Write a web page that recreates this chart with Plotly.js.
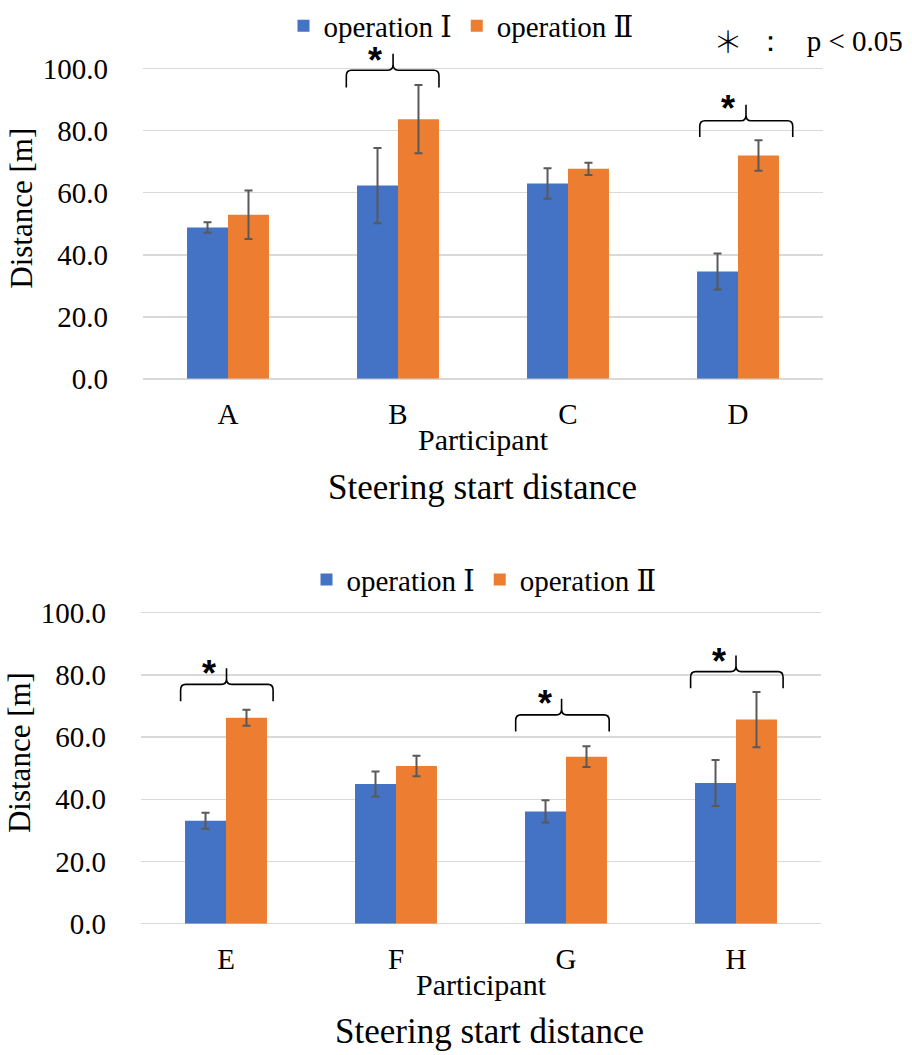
<!DOCTYPE html>
<html>
<head>
<meta charset="utf-8">
<script src="https://cdn.plot.ly/plotly-3.0.1.min.js"></script>
<style>
  html, body { margin: 0; padding: 0; background: #ffffff; }
  #chart { width: 912px; height: 1055px; }
</style>
</head>
<body>
<div id="chart"></div>
<script>
// ---------------- data ----------------
const categoriesTop = ['A', 'B', 'C', 'D'];
const op1Top = [48.8, 62.3, 63.0, 34.6];
const op1TopErr = [1.7, 12.1, 4.9, 5.8];
const op2Top = [52.9, 83.7, 67.7, 72.0];
const op2TopErr = [7.8, 11.0, 2.0, 4.9];

const categoriesBottom = ['E', 'F', 'G', 'H'];
const op1Bottom = [33.1, 44.9, 36.1, 45.2];
const op1BottomErr = [2.6, 4.0, 3.6, 7.4];
const op2Bottom = [66.2, 50.7, 53.7, 65.6];
const op2BottomErr = [2.6, 3.3, 3.3, 8.9];

const seriesNames = ['operation \u2160', 'operation \u2161'];
const yTickVals = [0, 20, 40, 60, 80, 100];
const chartTitle = 'Steering start distance';
const xTitle = 'Participant';
const yTitle = 'Distance [m]';
const sigMark = '\uFF0A';
const sigNote = '\uFF1A\u00a0\u00a0\u00a0p < 0.05';

// significant comparisons (category names)
const sigTop = ['B', 'D'];
const sigBottom = ['E', 'G', 'H'];

// ---------------- styling / annotation geometry ----------------
const BLUE = '#4472C4', ORANGE = '#ED7D31';
const SERIF = "'Liberation Serif', 'DejaVu Serif', serif";
const GRID = '#d9d9d9';

// brace geometry, relative to category index (l/r/tip/star offsets) and y levels
const braceGeom = {
  B: {l: -0.304, r: 0.241, tip: -0.029, star: -0.134, yh: 99.5, ye: 93.9, yt: 104.8, ys: 103.4},
  D: {l: -0.225, r: 0.322, tip: 0.047, star: -0.058, yh: 83.2, ye: 78.0, yt: 88.4, ys: 87.7},
  E: {l: -0.267, r: 0.277, tip: 0.003, star: -0.102, yh: 76.9, ye: 71.5, yt: 82.1, ys: 81.1},
  G: {l: -0.296, r: 0.254, tip: -0.026, star: -0.126, yh: 67.1, ye: 61.8, yt: 72.3, ys: 71.3},
  H: {l: -0.267, r: 0.277, tip: 0.0, star: -0.1, yh: 81.0, ye: 75.7, yt: 86.2, ys: 85.0}
};

const idxTop = categoriesTop.map((c, i) => i);
const idxBottom = categoriesBottom.map((c, i) => i);

function barTrace(x, y, err, name, color, xa, ya, legend) {
  return {
    type: 'bar', x: x, y: y, name: name,
    xaxis: xa, yaxis: ya, legend: legend, showlegend: true,
    marker: {color: color},
    error_y: {type: 'data', array: err, visible: true, color: '#595959', thickness: 2, width: 4},
    hoverinfo: 'x+y'
  };
}

const data = [
  barTrace(idxTop, op1Top, op1TopErr, seriesNames[0], BLUE, 'x', 'y', 'legend'),
  barTrace(idxTop, op2Top, op2TopErr, seriesNames[1], ORANGE, 'x', 'y', 'legend'),
  barTrace(idxBottom, op1Bottom, op1BottomErr, seriesNames[0], BLUE, 'x2', 'y2', 'legend2'),
  barTrace(idxBottom, op2Bottom, op2BottomErr, seriesNames[1], ORANGE, 'x2', 'y2', 'legend2')
];

const shapes = [];
const annotations = [];

function addBrace(cats, name, xref, yref) {
  const c = cats.indexOf(name);
  const g = braceGeom[name];
  const l = c + g.l, r = c + g.r, t = c + g.tip;
  const dx = 0.03, dy = 1.8;
  const p = `M${l},${g.ye} L${l},${g.yh - dy} Q${l},${g.yh} ${l + dx},${g.yh} ` +
            `L${t - dx},${g.yh} Q${t},${g.yh} ${t},${g.yh + dy} L${t},${g.yt} ` +
            `M${t},${g.yh + dy} Q${t},${g.yh} ${t + dx},${g.yh} ` +
            `L${r - dx},${g.yh} Q${r},${g.yh} ${r},${g.yh - dy} L${r},${g.ye}`;
  shapes.push({type: 'path', path: p, xref: xref, yref: yref, line: {color: '#000000', width: 1.6}});
  annotations.push({
    x: c + g.star, y: g.ys, xref: xref, yref: yref, text: '*', showarrow: false,
    xanchor: 'center', yanchor: 'middle', yshift: -2,
    font: {family: "'Liberation Sans', sans-serif", size: 36, color: '#000000', weight: 'bold'}
  });
}
sigTop.forEach(n => addBrace(categoriesTop, n, 'x', 'y'));
sigBottom.forEach(n => addBrace(categoriesBottom, n, 'x2', 'y2'));

// chart titles (placed below each chart, as in the original)
annotations.push({
  text: chartTitle, xref: 'paper', yref: 'paper', x: 483 / 912, y: 1 - 484 / 1055,
  xanchor: 'center', yanchor: 'middle', showarrow: false,
  font: {family: SERIF, size: 35, color: '#000000'}
});
annotations.push({
  text: chartTitle, xref: 'paper', yref: 'paper', x: 490 / 912, y: 1 - 1031 / 1055,
  xanchor: 'center', yanchor: 'middle', showarrow: false,
  font: {family: SERIF, size: 35, color: '#000000'}
});
// significance note
annotations.push({
  text: sigMark, xref: 'paper', yref: 'paper', x: 728 / 912, y: 1 - 34 / 1055,
  xanchor: 'center', yanchor: 'middle', showarrow: false,
  font: {family: "'Noto Sans CJK JP', sans-serif", size: 30, color: '#000000', weight: 300}
});
annotations.push({
  text: sigNote, xref: 'paper', yref: 'paper', x: 905 / 912, y: 1 - 35 / 1055,
  xanchor: 'right', yanchor: 'middle', showarrow: false,
  font: {family: SERIF, size: 29, color: '#000000'}
});

function xAxis(domain, cats, anchor) {
  return {
    domain: domain, anchor: anchor, type: 'linear', range: [-0.5, cats.length - 0.5],
    tickvals: cats.map((c, i) => i), ticktext: cats,
    showgrid: false, zeroline: false, showline: false, ticks: '',
    ticklabelstandoff: 15,
    tickfont: {family: SERIF, size: 29, color: '#000000'},
    title: {text: xTitle, font: {family: SERIF, size: 30, color: '#000000'}, standoff: 0},
    fixedrange: true
  };
}
function yAxis(domain, anchor) {
  return {
    domain: domain, anchor: anchor, range: [0, 110],
    tickvals: yTickVals, tickformat: '.1f',
    showgrid: true, gridcolor: GRID, gridwidth: 1.5,
    zeroline: true, zerolinecolor: GRID, zerolinewidth: 1.5,
    showline: false, ticks: '', ticklabelstandoff: 34,
    tickfont: {family: SERIF, size: 29, color: '#000000'},
    title: {text: yTitle, font: {family: SERIF, size: 31, color: '#000000'}, standoff: 0},
    fixedrange: true
  };
}

const layout = {
  width: 912, height: 1055,
  margin: {l: 0, r: 0, t: 0, b: 0},
  paper_bgcolor: '#ffffff', plot_bgcolor: '#ffffff',
  barmode: 'group', bargap: 0.518, bargroupgap: 0,
  font: {family: SERIF, color: '#000000'},
  xaxis: xAxis([143 / 912, 823 / 912], categoriesTop, 'y'),
  yaxis: yAxis([1 - 375 / 1055, 1 - 31.8 / 1055], 'x'),
  xaxis2: xAxis([141 / 912, 821 / 912], categoriesBottom, 'y2'),
  yaxis2: yAxis([1 - 923 / 1055, 1 - 578.7 / 1055], 'x2'),
  legend: {
    orientation: 'h', x: 461 / 912, xanchor: 'center', y: 1 - 20 / 1055, yanchor: 'middle',
    font: {family: SERIF, size: 29, color: '#000000'}, bgcolor: 'rgba(0,0,0,0)',
    itemwidth: 30, tracegroupgap: 0
  },
  legend2: {
    orientation: 'h', x: 484 / 912, xanchor: 'center', y: 1 - 577 / 1055, yanchor: 'middle',
    font: {family: SERIF, size: 29, color: '#000000'}, bgcolor: 'rgba(0,0,0,0)',
    itemwidth: 30, tracegroupgap: 0
  },
  shapes: shapes,
  annotations: annotations,
  showlegend: true
};

Plotly.newPlot('chart', data, layout, {displayModeBar: false, staticPlot: true});
</script>
</body>
</html>
